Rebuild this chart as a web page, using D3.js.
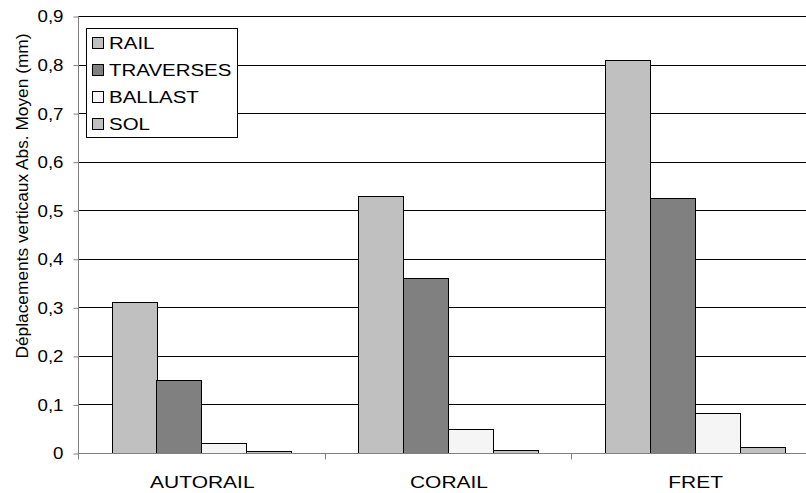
<!DOCTYPE html>
<html><head><meta charset="utf-8">
<script src="https://cdnjs.cloudflare.com/ajax/libs/d3/7.8.5/d3.min.js"></script>
<style>
html,body{margin:0;padding:0;background:#fff;}
svg{display:block;font-family:"Liberation Sans",Arial,sans-serif;}
</style></head>
<body><svg id="c" width="806" height="493"></svg>
<script>
const categories = ["AUTORAIL", "CORAIL", "FRET"];
const seriesNames = ["RAIL", "TRAVERSES", "BALLAST", "SOL"];
const railValues = [0.31, 0.53, 0.809];
const traversesValues = [0.15, 0.36, 0.525];
const ballastValues = [0.02, 0.05, 0.082];
const solValues = [0.004, 0.007, 0.013];
const seriesColors = ["#c0c0c0", "#808080", "#f5f5f5", "#c0c0c0"];
const yTicks = [0, 0.1, 0.2, 0.3, 0.4, 0.5, 0.6, 0.7, 0.8, 0.9];
const yTitle = "Déplacements verticaux Abs. Moyen (mm)";

(function () {
const values = [railValues, traversesValues, ballastValues, solValues];

const svg = d3.select("#c");
const pLeft = 78, pRight = 818, pTop = 16, pBottom = 453;

function stretch(sel, k) {
  sel.each(function () {
    const w = this.getComputedTextLength();
    d3.select(this).attr("textLength", w * k).attr("lengthAdjust", "spacingAndGlyphs");
  });
}

const x0 = d3.scaleBand().domain(categories).range([pLeft, pRight]).padding(0);
const x1 = d3.scaleBand().domain(seriesNames).range([0, x0.bandwidth()]).paddingInner(0).paddingOuter(0.75);
const y = d3.scaleLinear().domain([0, 0.9]).range([pBottom, pTop]);

const fmt = v => v === 0 ? "0" : d3.format(".1f")(v).replace(".", ",");

// gridlines
svg.append("g").selectAll("line").data(yTicks.filter(t => t > 0)).join("line")
  .attr("x1", pLeft).attr("x2", pRight)
  .attr("y1", d => Math.round(y(d)) + 0.5).attr("y2", d => Math.round(y(d)) + 0.5)
  .attr("stroke", "#000").attr("stroke-width", 1);

// bars
const g = svg.append("g");
seriesNames.forEach((s, si) => {
  g.append("g").selectAll("rect").data(categories).join("rect")
    .attr("x", c => Math.round(x0(c) + x1(s)) + 0.5)
    .attr("y", (c, ci) => Math.round(y(values[si][ci])) + 0.5)
    .attr("width", Math.round(x1.bandwidth()))
    .attr("height", (c, ci) => Math.max(0, Math.round(pBottom) - Math.round(y(values[si][ci]))))
    .attr("fill", seriesColors[si])
    .attr("stroke", "#000").attr("stroke-width", 1);
});

// y axis
const yAxis = d3.axisLeft(y).tickValues(yTicks).tickFormat(fmt).tickSize(5).tickPadding(10);
const ya = svg.append("g").attr("transform", `translate(${pLeft + 0.5},0.5)`).call(yAxis);
ya.select(".domain").attr("stroke", "#808080").attr("d", `M0,${pTop}V${pBottom}`);
ya.selectAll(".tick line").attr("stroke", "#808080");
const yt = ya.selectAll("text").attr("font-size", 17).attr("fill", "#000")
  .attr("font-family", "Liberation Sans, Arial, sans-serif");
stretch(yt, 1.1);

// x axis
const xa = svg.append("g").attr("transform", `translate(0,${pBottom + 0.5})`);
xa.append("line").attr("x1", pLeft).attr("x2", pRight).attr("stroke", "#808080");
xa.selectAll(".tk").data([pLeft, ...categories.map(c => x0(c) + x0.bandwidth())]).join("line")
  .attr("class", "tk")
  .attr("x1", d => Math.round(d) + 0.5).attr("x2", d => Math.round(d) + 0.5)
  .attr("y1", 0).attr("y2", 6).attr("stroke", "#808080");
const ct = xa.selectAll("text.cat").data(categories).join("text")
  .attr("class", "cat")
  .attr("x", c => x0(c) + x0.bandwidth() / 2 + 1)
  .attr("y", 34)
  .attr("text-anchor", "middle").attr("font-size", 17.2).attr("fill", "#000")
  .text(c => c);
stretch(ct, 1.22);

// y title
const tt = svg.append("text")
  .attr("transform", `translate(27.5,196) rotate(-90)`)
  .attr("text-anchor", "middle").attr("font-size", 16.5).attr("fill", "#000")
  .text(yTitle);
tt.attr("textLength", 325).attr("lengthAdjust", "spacingAndGlyphs");

// legend
const lg = svg.append("g");
lg.append("rect").attr("x", 86.5).attr("y", 28.5).attr("width", 151).attr("height", 109)
  .attr("fill", "#fff").attr("stroke", "#000");
seriesNames.forEach((s, i) => {
  const base = 49 + i * 27;
  lg.append("rect").attr("x", 92.5).attr("y", base - 11.5).attr("width", 11).attr("height", 11)
    .attr("fill", seriesColors[i]).attr("stroke", "#000");
  const t = lg.append("text").attr("x", 109).attr("y", base).attr("font-size", 17.2)
    .attr("fill", "#000").text(s);
  stretch(t, 1.19);
});
})();
</script></body></html>
